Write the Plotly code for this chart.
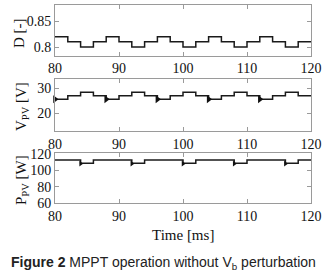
import plotly.graph_objects as go

# ---- data ----
t_edges = [80, 82, 84, 86, 88, 90, 92, 94, 96, 98, 100, 102, 104, 106, 108, 110, 112, 114, 116, 118, 120]
D_levels = [0.82, 0.81, 0.80, 0.81, 0.82, 0.81, 0.80, 0.81, 0.82, 0.81,
            0.80, 0.81, 0.82, 0.81, 0.80, 0.81, 0.82, 0.81, 0.80, 0.81]
V_levels = [25.5, 26.9, 28.3, 26.9, 25.5, 26.9, 28.3, 26.9, 25.5, 26.9,
            28.3, 26.9, 25.5, 26.9, 28.3, 26.9, 25.5, 26.9, 28.3, 26.9]
P_levels = [112.5, 112.5, 108.5, 112.5, 112.5, 112.5, 108.5, 112.5, 112.5, 112.5,
            108.5, 112.5, 112.5, 112.5, 108.5, 112.5, 112.5, 112.5, 108.5, 112.5]
# transient spikes at the step instants where V drops to its low level
V_spike_t = [80, 88, 96, 104, 112]
V_spike_v = [25.5, 25.5, 25.5, 25.5, 25.5]
# power dips start with a short downward transient
P_spike_t = [84, 92, 100, 108, 116]
P_spike_v = [108.0, 108.0, 108.0, 108.0, 108.0]

x_ticks = [80, 90, 100, 110, 120]
D_ticks = [0.8, 0.85]
V_ticks = [20, 30]
P_ticks = [60, 80, 100, 120]

# ---- figure ----
W, H = 323, 277
fig = go.Figure()

def steps(levels):
    return t_edges, levels + [levels[-1]]

LINE = dict(color="#1a1a1a", width=1.5, shape="hv")

x1, y1 = steps(D_levels)
fig.add_trace(go.Scatter(x=x1, y=y1, mode="lines", line=LINE, xaxis="x", yaxis="y"))
x2, y2 = steps(V_levels)
fig.add_trace(go.Scatter(x=x2, y=y2, mode="lines", line=LINE, xaxis="x2", yaxis="y2"))
fig.add_trace(go.Scatter(x=V_spike_t, y=V_spike_v, mode="markers", cliponaxis=False,
                         marker=dict(symbol="triangle-right", size=7, color="#111"),
                         xaxis="x2", yaxis="y2"))
x3, y3 = steps(P_levels)
fig.add_trace(go.Scatter(x=x3, y=y3, mode="lines", line=LINE, xaxis="x3", yaxis="y3"))
fig.add_trace(go.Scatter(x=P_spike_t, y=P_spike_v, mode="markers",
                         marker=dict(symbol="triangle-right", size=5, color="#111"),
                         xaxis="x3", yaxis="y3"))

FONT = "Liberation Serif"

def px_x(x):
    return x / W

def px_y(y):
    return 1 - y / H

xdom = [px_x(55), px_x(311)]

def ydom(top, bot):
    return [px_y(bot), px_y(top)]

common_x = dict(range=[80, 120], tickvals=x_ticks, ticks="inside", ticklen=4,
                showline=True, mirror="ticks", linecolor="#9a9a9a", tickcolor="#9a9a9a",
                linewidth=1, showgrid=False, zeroline=False, domain=xdom, automargin=False,
                tickfont=dict(family=FONT, size=14, color="#111"))
common_y = dict(ticks="inside", ticklen=4, showline=True, mirror="ticks",
                linecolor="#9a9a9a", tickcolor="#9a9a9a", linewidth=1,
                showgrid=False, zeroline=False, automargin=False,
                tickfont=dict(family=FONT, size=14, color="#111"))

fig.update_layout(
    width=W, height=H, margin=dict(l=0, r=0, t=0, b=0, pad=0), autosize=False,
    paper_bgcolor="white", plot_bgcolor="white", showlegend=False,
    xaxis=dict(**common_x, anchor="y"),
    xaxis2=dict(**common_x, anchor="y2"),
    xaxis3=dict(**common_x, anchor="y3"),
    yaxis=dict(**common_y, domain=ydom(5, 55.5), range=[0.7836, 0.881], tickvals=D_ticks,
               ticktext=["0.8", "0.85"], anchor="x"),
    yaxis2=dict(**common_y, domain=ydom(79, 131), range=[12.8, 33.6], tickvals=V_ticks, anchor="x2"),
    yaxis3=dict(**common_y, domain=ydom(153, 203), range=[60, 121], tickvals=P_ticks, anchor="x3"),
)

def label(text, x, y, size=15, family=FONT, angle=0, color="#111"):
    return dict(text=text, x=px_x(x), y=px_y(y), xref="paper", yref="paper",
                xanchor="center", yanchor="middle", textangle=angle, showarrow=False,
                font=dict(family=family, size=size, color=color))

ann = [
    label("D [-]", 19, 33, angle=-90),
    label("V<sub>PV</sub> [V]", 22, 107, angle=-90),
    label("P<sub>PV</sub> [W]", 22, 180, angle=-90),
    label("Time [ms]", 183, 235),
    label("<b>Figure 2</b> MPPT operation without V<sub>b</sub> perturbation", 163, 263,
          size=14, family="Liberation Sans", color="#222"),
]
fig.update_layout(annotations=ann)

# remove the browser's default 8 px body margin so the figure sits at the page origin
fig.write_html("out.html", config={"displayModeBar": False},
               post_script="document.body.style.margin='0';")
